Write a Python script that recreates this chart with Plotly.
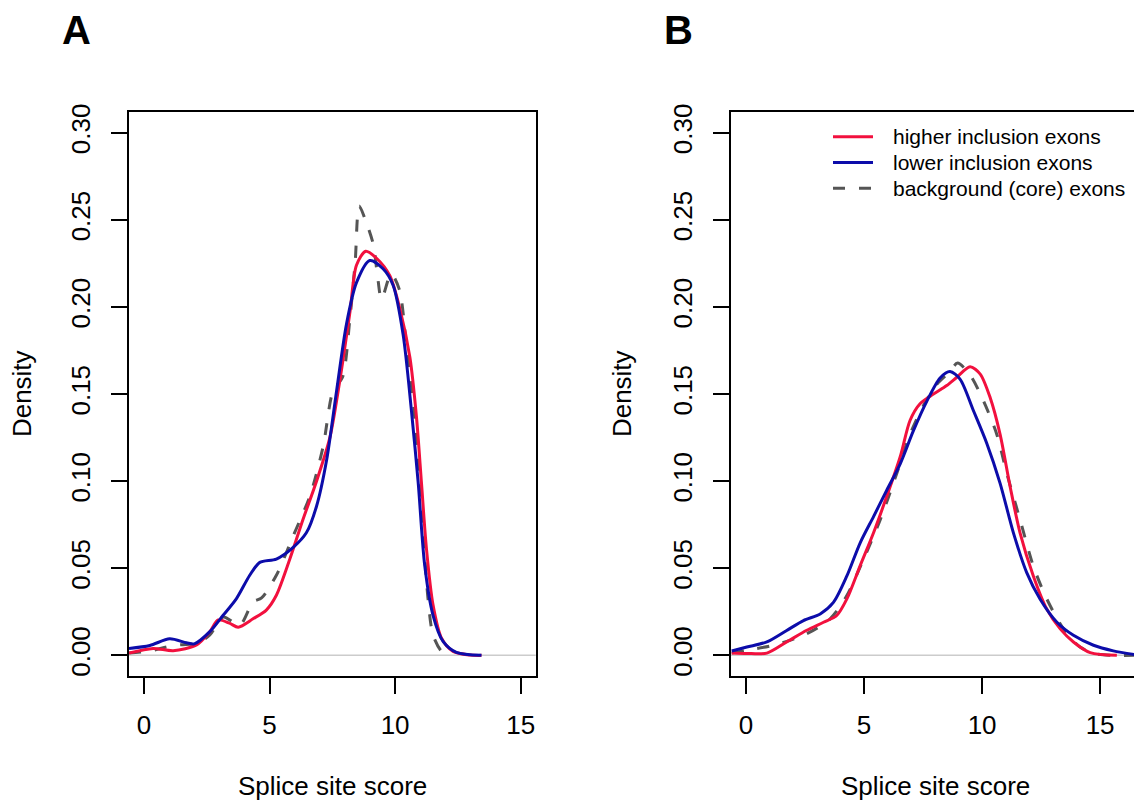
import plotly.graph_objects as go

# ---------------- data ----------------
# Panel A
a_high_x = [-0.6, 0.36, 1.16, 2.09, 2.62, 2.95, 3.4, 3.75, 4.34, 4.87, 5.27, 5.80, 6.33, 6.87, 7.40, 7.80,
            8.20, 8.46, 8.83, 9.26, 9.79, 10.19, 10.59, 10.85, 11.05, 11.25, 11.51, 11.85, 12.31, 12.97, 13.44]
a_high_y = [0.0013, 0.004, 0.0027, 0.006, 0.0136, 0.0203, 0.0185, 0.0162, 0.021, 0.026, 0.0345, 0.055, 0.078,
            0.100, 0.125, 0.158, 0.197, 0.224, 0.232, 0.228, 0.218, 0.199, 0.171, 0.137, 0.099, 0.061, 0.029,
            0.0098, 0.0023, 0.0002, 0.0]

a_low_x = [-0.6, 0.23, 1.02, 1.69, 2.0, 2.62, 3.15, 3.68, 4.21, 4.61, 5.27, 5.94, 6.47, 6.87, 7.27, 7.67,
           8.06, 8.46, 8.99, 9.52, 9.92, 10.32, 10.65, 10.92, 11.18, 11.51, 11.91, 12.44, 13.44]
a_low_y = [0.004, 0.0057, 0.0095, 0.0072, 0.0066, 0.0136, 0.023, 0.0326, 0.046, 0.0534, 0.0553, 0.062, 0.0705,
           0.0856, 0.112, 0.152, 0.190, 0.214, 0.2267, 0.222, 0.2125, 0.184, 0.1405, 0.099, 0.0515, 0.023,
           0.008, 0.0017, 0.0]

a_core_x = [-0.6, 0.23, 1.16, 2.09, 2.62, 3.15, 3.81, 4.34, 4.68, 5.27, 5.94, 6.60, 7.13, 7.53, 7.90, 8.20,
            8.41, 8.57, 8.79, 9.13, 9.29, 9.46, 9.84, 10.17, 10.45, 10.72, 10.92, 11.12, 11.31, 11.51, 11.85, 12.18]
a_core_y = [0.0013, 0.0025, 0.0057, 0.007, 0.0117, 0.022, 0.0174, 0.0307, 0.033, 0.046, 0.0686, 0.0913, 0.1197,
            0.152, 0.1595, 0.1936, 0.226, 0.258, 0.251, 0.236, 0.219, 0.2045, 0.219, 0.210, 0.178, 0.146, 0.112,
            0.070, 0.0326, 0.0117, 0.0023, 0.0]

# Panel B
b_high_x = [-0.61, 0.03, 0.88, 1.72, 2.57, 3.28, 3.84, 4.27, 4.83, 5.40, 5.96, 6.53, 6.95, 7.37, 7.94, 8.50,
            8.93, 9.49, 9.92, 10.34, 10.76, 11.19, 11.61, 12.17, 12.74, 13.31, 13.87, 14.58, 15.71]
b_high_y = [0.0014, 0.0011, 0.0013, 0.0077, 0.0144, 0.019, 0.0229, 0.0324, 0.0514, 0.0704, 0.0913, 0.114, 0.135,
            0.1445, 0.150, 0.1549, 0.1597, 0.1657, 0.1615, 0.148, 0.127, 0.0967, 0.0702, 0.0456, 0.0266, 0.0152,
            0.0077, 0.0016, 0.0]

b_low_x = [-0.61, 0.03, 0.88, 1.72, 2.43, 3.14, 3.70, 4.27, 4.83, 5.40, 5.96, 6.53, 7.09, 7.66, 8.22, 8.64,
           9.07, 9.63, 10.2, 10.76, 11.33, 11.89, 12.46, 13.17, 13.87, 14.72, 15.56, 16.44]
b_low_y = [0.0025, 0.0048, 0.0077, 0.0143, 0.020, 0.0238, 0.0304, 0.0456, 0.0645, 0.0797, 0.0948, 0.110, 0.129,
           0.146, 0.1593, 0.163, 0.1585, 0.1406, 0.1217, 0.0989, 0.0702, 0.0475, 0.0322, 0.019, 0.0115, 0.0058,
           0.0026, 0.0005]

b_core_x = [-0.61, 0.03, 1.16, 2.57, 3.56, 4.27, 4.97, 5.68, 6.38, 6.95, 7.51, 8.08, 8.64, 8.96, 9.49, 10.06,
            10.62, 11.05, 11.61, 12.17, 12.74, 13.45, 14.15, 14.86, 16.44]
b_core_y = [0.0013, 0.003, 0.0058, 0.0124, 0.021, 0.0343, 0.055, 0.0778, 0.1043, 0.127, 0.1433, 0.1556, 0.163,
            0.1678, 0.161, 0.146, 0.127, 0.1043, 0.0778, 0.0513, 0.0324, 0.0152, 0.0048, 0.0008, 0.0]

series_names = ["higher inclusion exons", "lower inclusion exons", "background (core) exons"]
x_ticks = [0, 5, 10, 15]
y_ticks = [0.00, 0.05, 0.10, 0.15, 0.20, 0.25, 0.30]
panel_labels = ["A", "B"]
x_title = "Splice site score"
y_title = "Density"

# ---------------- styling ----------------
W, H = 1134, 802
FONT = "Liberation Sans, Arial, Helvetica, sans-serif"
RED = "#F2103E"
BLUE = "#0C0CAA"
GRAY = "#555555"
DASH = "12px,14px"


def fx(px):
    return px / W


def fy(py):
    return 1 - py / H


fig = go.Figure()

panels = [
    (a_high_x, a_high_y, a_low_x, a_low_y, a_core_x, a_core_y, "x", "y"),
    (b_high_x, b_high_y, b_low_x, b_low_y, b_core_x, b_core_y, "x2", "y2"),
]
for hx, hy, lx, ly, cx, cy, xa, ya in panels:
    fig.add_trace(go.Scatter(x=cx, y=cy, mode="lines", xaxis=xa, yaxis=ya, showlegend=False, hoverinfo="skip",
                             line=dict(color=GRAY, width=3, dash=DASH, shape="spline", smoothing=0.8)))
    fig.add_trace(go.Scatter(x=hx, y=hy, mode="lines", xaxis=xa, yaxis=ya, showlegend=False, hoverinfo="skip",
                             line=dict(color=RED, width=3, shape="spline", smoothing=0.8)))
    fig.add_trace(go.Scatter(x=lx, y=ly, mode="lines", xaxis=xa, yaxis=ya, showlegend=False, hoverinfo="skip",
                             line=dict(color=BLUE, width=3, shape="spline", smoothing=0.8)))

axis_common = dict(showgrid=False, zeroline=False, showline=True, linecolor="black", linewidth=1.6,
                   ticks="outside", ticklen=16, tickwidth=1.6, tickcolor="black",
                   tickfont=dict(family=FONT, size=26, color="black"))

top, bottom = 105, 675
fig.update_layout(
    width=W, height=H,
    margin=dict(l=0, r=0, t=0, b=0),
    paper_bgcolor="white", plot_bgcolor="white",
    showlegend=False,
    xaxis=dict(domain=[fx(129), fx(535.7)], range=[-0.6, 15.6], tickvals=x_ticks, mirror=True,
               anchor="y", ticklabelstandoff=9, **axis_common),
    yaxis=dict(domain=[fy(bottom), fy(top)], range=[-0.012, 0.312], tickvals=y_ticks, tickformat=".2f",
               tickangle=-90, mirror=True, anchor="x", ticklabelstandoff=11, **axis_common),
    xaxis2=dict(domain=[fx(731), 1.0], range=[-0.64, -0.64 + (W - 731) / 23.6], tickvals=x_ticks, mirror=True,
                anchor="y2", ticklabelstandoff=9, **axis_common),
    yaxis2=dict(domain=[fy(bottom), fy(top)], range=[-0.012, 0.312], tickvals=y_ticks, tickformat=".2f",
                tickangle=-90, mirror=False, anchor="x2", ticklabelstandoff=11, **axis_common),
)

# zero reference lines
for xr, yr in [("x domain", "y"), ("x2 domain", "y2")]:
    fig.add_shape(type="line", xref=xr, yref=yr, x0=0, x1=1, y0=0, y1=0,
                  line=dict(color="#CCCCCC", width=1.5), layer="below")

annotations = []
for lab, px in zip(panel_labels, [76, 678]):
    annotations.append(dict(text=f"<b>{lab}</b>", x=fx(px), y=fy(22), xref="paper", yref="paper",
                            showarrow=False, font=dict(family=FONT, size=40, color="black"),
                            xanchor="center", yanchor="middle"))
for px in [22, 622]:
    annotations.append(dict(text=y_title, x=fx(px), y=fy(390), xref="paper", yref="paper", textangle=-90,
                            showarrow=False, font=dict(family=FONT, size=26, color="black"),
                            xanchor="center", yanchor="middle"))
for px in [332, 935]:
    annotations.append(dict(text=x_title, x=fx(px), y=fy(786), xref="paper", yref="paper",
                            showarrow=False, font=dict(family=FONT, size=26, color="black"),
                            xanchor="center", yanchor="middle"))

# legend (panel B, top right, no box)
legend_rows = [130, 156, 182]
legend_styles = [dict(color=RED, width=3), dict(color=BLUE, width=3), dict(color=GRAY, width=3, dash=DASH)]
for name, py, st in zip(series_names, legend_rows, legend_styles):
    fig.add_shape(type="line", xref="paper", yref="paper", x0=fx(833), x1=fx(873), y0=fy(py), y1=fy(py),
                  line=st)
    annotations.append(dict(text=name, x=fx(891), y=fy(py), xref="paper", yref="paper", showarrow=False,
                            font=dict(family=FONT, size=21, color="black"), xanchor="left", yanchor="middle"))

fig.update_layout(annotations=annotations)
fig.write_html(
    "out.html",
    config={"displayModeBar": False},
    post_script="document.body.style.margin='0px';document.body.style.padding='0px';"
                "document.body.style.overflow='hidden';",
)
